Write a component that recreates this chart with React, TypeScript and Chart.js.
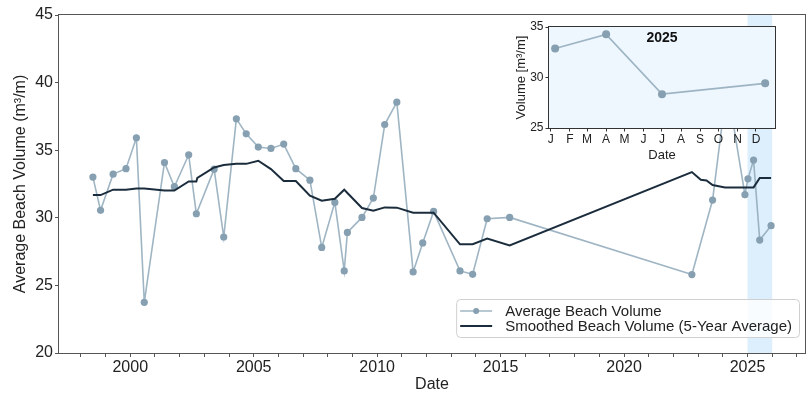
import React, { useEffect, useRef } from 'react';
import { Chart, registerables } from 'chart.js';

Chart.register(...registerables);

const FONT = "'Liberation Sans', Arial, Helvetica, sans-serif";

// ---- Data ----
const avgDates = [
  '1998-06-28', '1998-10-19', '1999-04-23', '1999-10-30', '2000-04-01', '2000-07-27',
  '2001-05-22', '2001-10-15', '2002-05-15', '2002-09-05', '2003-05-26', '2003-10-15',
  '2004-04-19', '2004-09-12', '2005-03-10', '2005-09-13', '2006-03-21', '2006-09-16',
  '2007-04-12', '2007-10-04', '2008-04-15', '2008-09-01', '2008-10-18', '2009-05-22',
  '2009-11-06', '2010-04-23', '2010-10-19', '2011-06-17', '2011-11-06', '2012-04-15',
  '2013-05-11', '2013-11-14', '2014-06-17', '2015-05-15', '2022-10-01', '2023-08-03',
  '2024-03-03', '2024-11-24', '2025-01-08', '2025-04-01', '2025-07-01', '2025-12-16',
];
const avgValues = [
  33.01, 30.55, 33.23, 33.63, 35.92, 23.75,
  34.09, 32.3, 34.66, 30.3, 33.6, 28.58,
  37.32, 36.21, 35.23, 35.13, 35.45, 33.63,
  32.78, 27.81, 31.14, 26.07, 28.92, 30.03,
  31.46, 36.9, 38.55, 26.0, 28.14, 30.47,
  26.07, 25.82, 29.93, 30.03, 25.8, 31.31,
  39.8, 31.71, 32.88, 34.27, 28.35, 29.42,
];
const smoothDates = [
  '1998-06-28', '1998-10-19', '1999-04-23', '1999-10-30', '2000-04-01', '2000-07-27',
  '2001-05-22', '2001-10-15', '2002-05-15', '2002-09-05', '2002-09-20', '2003-05-26',
  '2003-10-15', '2004-04-19', '2004-09-12', '2005-03-10', '2005-09-13', '2006-03-21',
  '2006-09-16', '2007-04-12', '2007-10-04', '2008-04-15', '2008-09-01', '2008-10-18',
  '2009-05-22', '2009-11-06', '2010-04-23', '2010-10-19', '2011-06-17', '2011-11-06',
  '2012-04-15', '2013-05-11', '2013-11-14', '2014-06-17', '2015-05-15', '2022-10-01',
  '2023-02-10', '2023-05-05', '2023-08-03', '2024-02-03', '2024-11-24', '2025-01-08',
  '2025-04-01', '2025-07-01', '2025-12-16',
];
const smoothValues = [
  31.68, 31.68, 32.08, 32.08, 32.17, 32.17,
  32.02, 32.02, 32.69, 32.69, 32.95, 33.72,
  33.9, 33.99, 33.99, 34.22, 33.6, 32.72,
  32.72, 31.63, 31.26, 31.41, 32.08, 31.83,
  30.72, 30.52, 30.77, 30.75, 30.38, 30.38,
  30.38, 28.04, 28.04, 28.46, 27.96, 33.38,
  32.81, 32.76, 32.42, 32.25, 32.25, 32.25,
  32.25, 32.94, 32.94,
];
const mainYTicks = [20, 25, 30, 35, 40, 45];
const majorYearStep = 5;
const highlightYear = 2025;
const insetMonthStarts = [
  '2025-01-01', '2025-02-01', '2025-03-01', '2025-04-01', '2025-05-01', '2025-06-01',
  '2025-07-01', '2025-08-01', '2025-09-01', '2025-10-01', '2025-11-01', '2025-12-01',
];
const insetMonthLabels = ['J', 'F', 'M', 'A', 'M', 'J', 'J', 'A', 'S', 'O', 'N', 'D'];
const insetYTicks = [25, 30, 35];
const insetXRange = ['2024-12-29', '2025-12-31'];
const labelAvg = 'Average Beach Volume';
const labelSmooth = 'Smoothed Beach Volume (5-Year Average)';

function toYear(d: string): number {
  const [y, m, dd] = d.split('-').map(Number);
  const start = Date.UTC(y, 0, 1);
  const end = Date.UTC(y + 1, 0, 1);
  return y + (Date.UTC(y, m - 1, dd) - start) / (end - start);
}

const AVG_LINE = 'rgba(142,168,185,0.85)';
const AVG_POINT = '#86a0b2';
const SMOOTH_LINE = '#1b2d3d';
const TEXT = '#222222';

export default function App() {
  const mainRef = useRef<HTMLCanvasElement>(null);
  const insetRef = useRef<HTMLCanvasElement>(null);

  useEffect(() => {
    const avgPts = avgDates.map((d, i) => ({ x: toYear(d), y: avgValues[i] }));
    const smoothPts = smoothDates.map((d, i) => ({ x: toYear(d), y: smoothValues[i] }));
    const xs = avgPts.map((p) => p.x);
    const dMin = Math.min(...xs);
    const dMax = Math.max(...xs);
    const pad = (dMax - dMin) * 0.05;
    const xMin = dMin - pad;
    const xMax = dMax + pad;
    const years: number[] = [];
    for (let y = Math.ceil(xMin); y <= Math.floor(xMax); y++) years.push(y);

    const bandPlugin = {
      id: 'band',
      beforeDatasetsDraw(chart: any) {
        const { ctx, chartArea, scales } = chart;
        const x0 = scales.x.getPixelForValue(highlightYear);
        const x1 = scales.x.getPixelForValue(highlightYear + 1);
        ctx.save();
        ctx.fillStyle = 'rgba(173,216,250,0.42)';
        ctx.fillRect(x0, chartArea.top, x1 - x0, chartArea.bottom - chartArea.top);
        ctx.restore();
      },
    };
    const framePlugin = (color: string) => ({
      id: 'frame',
      afterDatasetsDraw(chart: any) {
        const { ctx, chartArea } = chart;
        ctx.save();
        ctx.strokeStyle = color;
        ctx.lineWidth = 1;
        ctx.strokeRect(
          Math.round(chartArea.left) - 0.5,
          Math.round(chartArea.top) - 0.5,
          Math.round(chartArea.right - chartArea.left) + 1,
          Math.round(chartArea.bottom - chartArea.top) + 1
        );
        ctx.restore();
      },
    });
    const legendPlugin = {
      id: 'customLegend',
      afterDraw(chart: any) {
        const { ctx, chartArea } = chart;
        const ds = chart.data.datasets;
        ctx.save();
        ctx.font = `15px ${FONT}`;
        const tw = Math.max(...ds.map((d: any) => ctx.measureText(d.label).width));
        const right = chartArea.right - 6;
        const bottom = chartArea.bottom - 16;
        const w = 49 + tw + 7;
        const h = 38;
        const left = right - w;
        const top = bottom - h;
        ctx.beginPath();
        (ctx as any).roundRect(left + 0.5, top + 0.5, w, h, 4);
        ctx.fillStyle = 'rgba(255,255,255,0.8)';
        ctx.fill();
        ctx.strokeStyle = '#d0d0d0';
        ctx.lineWidth = 1;
        ctx.stroke();
        const rows = [top + 12, top + 27];
        const order = [1, 0];
        order.forEach((di, r) => {
          const d = ds[di];
          const y = rows[r];
          ctx.beginPath();
          ctx.moveTo(left + 4, y);
          ctx.lineTo(left + 36, y);
          ctx.strokeStyle = d.borderColor;
          ctx.lineWidth = d.borderWidth;
          ctx.stroke();
          if (d.pointRadius > 0) {
            ctx.beginPath();
            ctx.arc(left + 20, y, 3, 0, Math.PI * 2);
            ctx.fillStyle = d.pointBackgroundColor;
            ctx.fill();
          }
          ctx.fillStyle = TEXT;
          ctx.textBaseline = 'middle';
          ctx.textAlign = 'left';
          ctx.fillText(d.label, left + 49, y + 0.5);
        });
        ctx.restore();
      },
    };

    const main = new Chart(mainRef.current!, {
      type: 'line',
      data: {
        datasets: [
          {
            label: labelSmooth,
            data: smoothPts,
            borderColor: SMOOTH_LINE,
            borderWidth: 2,
            pointRadius: 0,
            tension: 0,
            order: 0,
          },
          {
            label: labelAvg,
            data: avgPts,
            borderColor: AVG_LINE,
            borderWidth: 1.6,
            pointRadius: 3.6,
            pointBackgroundColor: AVG_POINT,
            pointBorderWidth: 0,
            tension: 0,
            order: 1,
          },
        ],
      },
      options: {
        animation: false,
        responsive: false,
        devicePixelRatio: 1,
        events: [],
        layout: { padding: { top: 15, right: 3, left: 0, bottom: 0 } },
        plugins: { legend: { display: false }, tooltip: { enabled: false } },
        scales: {
          x: {
            type: 'linear',
            min: xMin,
            max: xMax,
            afterBuildTicks: (s: any) => {
              s.ticks = years.map((v) => ({ value: v }));
            },
            afterFit: (s: any) => {
              s.height = 41;
            },
            ticks: {
              autoSkip: false,
              maxRotation: 0,
              padding: 1,
              color: TEXT,
              font: { size: 16, family: FONT },
              callback: (v: any) => (Number(v) % majorYearStep === 0 ? String(v) : ''),
            },
            grid: { drawOnChartArea: false, drawTicks: true, tickLength: 4, color: '#555' },
            border: { display: false },
            title: {
              display: true,
              text: 'Date',
              color: TEXT,
              font: { size: 16, family: FONT },
              padding: { top: 0, bottom: 0 },
            },
          },
          y: {
            type: 'linear',
            min: mainYTicks[0],
            max: mainYTicks[mainYTicks.length - 1],
            afterBuildTicks: (s: any) => {
              s.ticks = mainYTicks.map((v) => ({ value: v }));
            },
            afterFit: (s: any) => {
              s.width = 59;
            },
            ticks: { padding: 2, color: TEXT, font: { size: 16, family: FONT } },
            grid: { drawOnChartArea: false, drawTicks: true, tickLength: 4, color: '#555' },
            border: { display: false },
            title: {
              display: true,
              text: 'Average Beach Volume (m³/m)',
              color: TEXT,
              font: { size: 16, family: FONT },
              padding: { top: 11, bottom: 0 },
            },
          },
        },
      },
      plugins: [bandPlugin, framePlugin('#555555'), legendPlugin],
    } as any);

    // ---- Inset ----
    const insetPts = avgPts.filter((p) => Math.floor(p.x) === highlightYear);
    const monthVals = insetMonthStarts.map(toYear);
    const insetBg = {
      id: 'insetBg',
      beforeDraw(chart: any) {
        const { ctx, chartArea } = chart;
        ctx.save();
        ctx.fillStyle = '#eef6fe';
        ctx.fillRect(chartArea.left, chartArea.top, chartArea.right - chartArea.left, chartArea.bottom - chartArea.top);
        ctx.restore();
      },
    };
    const insetTitle = {
      id: 'insetTitle',
      afterDraw(chart: any) {
        const { ctx, chartArea } = chart;
        ctx.save();
        ctx.font = `bold 14px ${FONT}`;
        ctx.fillStyle = '#111';
        ctx.textAlign = 'center';
        ctx.textBaseline = 'middle';
        ctx.fillText(String(highlightYear), (chartArea.left + chartArea.right) / 2, chartArea.top + 11);
        ctx.restore();
      },
    };

    const inset = new Chart(insetRef.current!, {
      type: 'line',
      data: {
        datasets: [
          {
            label: labelAvg,
            data: insetPts,
            borderColor: AVG_LINE,
            borderWidth: 1.6,
            pointRadius: 4,
            pointBackgroundColor: AVG_POINT,
            pointBorderWidth: 0,
            tension: 0,
          },
        ],
      },
      options: {
        animation: false,
        responsive: false,
        devicePixelRatio: 1,
        events: [],
        layout: { padding: { top: 17, right: 25, left: 0, bottom: 0 } },
        plugins: { legend: { display: false }, tooltip: { enabled: false } },
        scales: {
          x: {
            type: 'linear',
            min: toYear(insetXRange[0]),
            max: toYear(insetXRange[1]) + 1 / 365,
            afterBuildTicks: (s: any) => {
              s.ticks = monthVals.map((v) => ({ value: v }));
            },
            afterFit: (s: any) => {
              s.height = 42;
            },
            ticks: {
              autoSkip: false,
              maxRotation: 0,
              padding: 1,
              color: TEXT,
              font: { size: 12, family: FONT },
              callback: (_v: any, i: number) => insetMonthLabels[i],
            },
            grid: { drawOnChartArea: false, drawTicks: true, tickLength: 3.5, color: '#333' },
            border: { display: false },
            title: {
              display: true,
              text: 'Date',
              color: TEXT,
              font: { size: 13, family: FONT },
              padding: { top: 0, bottom: 7 },
            },
          },
          y: {
            type: 'linear',
            min: insetYTicks[0],
            max: insetYTicks[insetYTicks.length - 1],
            afterBuildTicks: (s: any) => {
              s.ticks = insetYTicks.map((v) => ({ value: v }));
            },
            afterFit: (s: any) => {
              s.width = 69;
            },
            ticks: { padding: 2, color: TEXT, font: { size: 12, family: FONT } },
            grid: { drawOnChartArea: false, drawTicks: true, tickLength: 3.5, color: '#333' },
            border: { display: false },
            title: {
              display: true,
              text: 'Volume [m³/m]',
              color: TEXT,
              font: { size: 13, family: FONT },
              padding: { top: 34, bottom: 0 },
            },
          },
        },
      },
      plugins: [insetBg, framePlugin('#333333'), insetTitle],
    } as any);

    return () => {
      main.destroy();
      inset.destroy();
    };
  }, []);

  return (
    <div style={{ position: 'absolute', left: 0, top: 0, width: 809, height: 394, background: '#ffffff' }}>
      <canvas
        ref={mainRef}
        width={809}
        height={394}
        style={{ position: 'absolute', left: 0, top: 0, width: 809, height: 394 }}
      />
      <canvas
        ref={insetRef}
        width={320}
        height={160}
        style={{ position: 'absolute', left: 480, top: 10, width: 320, height: 160 }}
      />
    </div>
  );
}
